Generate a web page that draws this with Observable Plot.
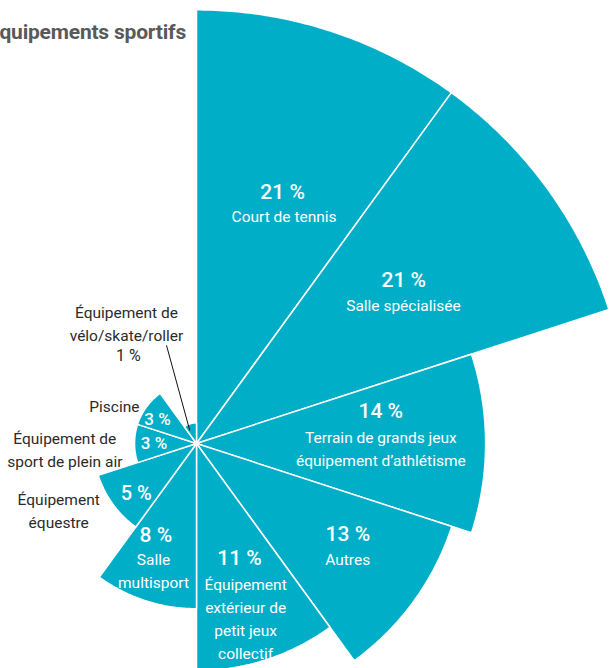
<!DOCTYPE html>
<html>
<head>
<meta charset="utf-8">
<script src="https://cdn.jsdelivr.net/npm/d3@7"></script>
<script src="https://cdn.jsdelivr.net/npm/@observablehq/plot@0.6"></script>
<style>
  html, body { margin: 0; padding: 0; background: #fff; }
  #wrap { position: relative; width: 609px; height: 668px; overflow: hidden; }
  #title { position: absolute; right: 423px; top: 20px; white-space: nowrap;
           font-family: "Roboto", sans-serif; font-weight: bold;
           font-size: 21px; color: #58595b; letter-spacing: -0.2px; }
  #chart svg { display: block; }
</style>
</head>
<body>
<div id="wrap">
  <div id="chart"></div>
  <div id="title">Équipements sportifs</div>
</div>
<script>
// ---- data ----
const categories = [
  "Court de tennis",
  "Salle spécialisée",
  "Terrain de grands jeux\néquipement d’athlétisme",
  "Autres",
  "Équipement\nextérieur de\npetit jeux\ncollectif",
  "Salle\nmultisport",
  "Équipement\néquestre",
  "Équipement de\nsport de plein air",
  "Piscine",
  "Équipement de\nvélo/skate/roller"
];
const values = [21, 21, 14, 13, 11, 8, 5, 3, 3, 1];
const pctLabels = ["21 %", "21 %", "14 %", "13 %", "11 %", "8 %", "5 %", "3 %", "3 %", "1 %"];

// ---- layout (polar anchors: [angle° clockwise from top, radius in % units]) ----
const pctAt  = [[18.9,12.87],[51.7,12.79],[80.1,9.06],[120.9,8.54],[159.5,5.95],[203.9,4.85],[230.05,3.81],[269.3,2.06],[301.6,2.22],[322.3,5.39]];
const nameAt = [[20.97,11.85],[55.9,12.1],[91.2,8.93],[127.1,9.18],[164.2,8.74],[198.9,6.43],[244.4,7.4],[268.0,6.38],[295.4,4.40],[330.1,6.80]];
const nameInside = [true,true,true,true,true,true,false,false,false,false];
const pctInside  = [true,true,true,true,true,true,true,true,true,false];
const pctSize    = [21,21,21,21,21,21,20,17,17,16];
const leader = [[332.7,0.71],[343,4.97]];

const TEAL = "#00aec7", DARK = "#2b2b2b";
const FONT = '"Roboto", sans-serif';
const W = 609, H = 668, cx = 196, cy = 443, k = 20.65;

const rad = d => d * Math.PI / 180;
const px = (a, r) => r * Math.sin(rad(a));
const py = (a, r) => r * Math.cos(rad(a));

const n = categories.length, step = 360 / n;
const wedgePts = [];
categories.forEach((c, i) => {
  const a0 = i * step, a1 = (i + 1) * step, v = values[i];
  wedgePts.push({c, x: 0, y: 0});
  for (let a = a0; a <= a1 + 1e-9; a += 0.5) wedgePts.push({c, x: px(a, v), y: py(a, v)});
  wedgePts.push({c, x: 0, y: 0});
});

const pctData = categories.map((c, i) => ({t: pctLabels[i], x: px(...pctAt[i]), y: py(...pctAt[i]),
  fill: pctInside[i] ? "#fff" : DARK, size: pctSize[i]}));
const nameData = categories.map((c, i) => ({t: c, x: px(...nameAt[i]), y: py(...nameAt[i]),
  fill: nameInside[i] ? "#fff" : DARK}));

const pctMark = (size, weight) => Plot.text(pctData.filter(d => d.size === size),
  {x: "x", y: "y", text: "t", fill: d => d.fill, fontSize: size, fontWeight: weight, lineAnchor: "middle", textAnchor: "middle"});

const chart = Plot.plot({
  width: W, height: H, margin: 0,
  x: {domain: [-cx / k, (W - cx) / k], range: [0, W], axis: null},
  y: {domain: [-(H - cy) / k, cy / k], range: [H, 0], axis: null},
  style: {fontFamily: FONT, background: "transparent"},
  marks: [
    Plot.line(wedgePts, {x: "x", y: "y", z: "c", fill: TEAL, stroke: "#fff", strokeWidth: 1.5, strokeLinejoin: "miter"}),
    Plot.link([leader], {x1: d => px(...d[0]), y1: d => py(...d[0]), x2: d => px(...d[1]), y2: d => py(...d[1]), stroke: "#111", strokeWidth: 1}),
    Plot.text(nameData, {x: "x", y: "y", text: "t", fill: d => d.fill, fontSize: 15.5, lineHeight: 1.48, lineAnchor: "middle", textAnchor: "middle"}),
    pctMark(21, 500),
    pctMark(20, 500),
    pctMark(17, 500),
    pctMark(16, "normal")
  ]
});
document.getElementById("chart").append(chart);
</script>
</body>
</html>
